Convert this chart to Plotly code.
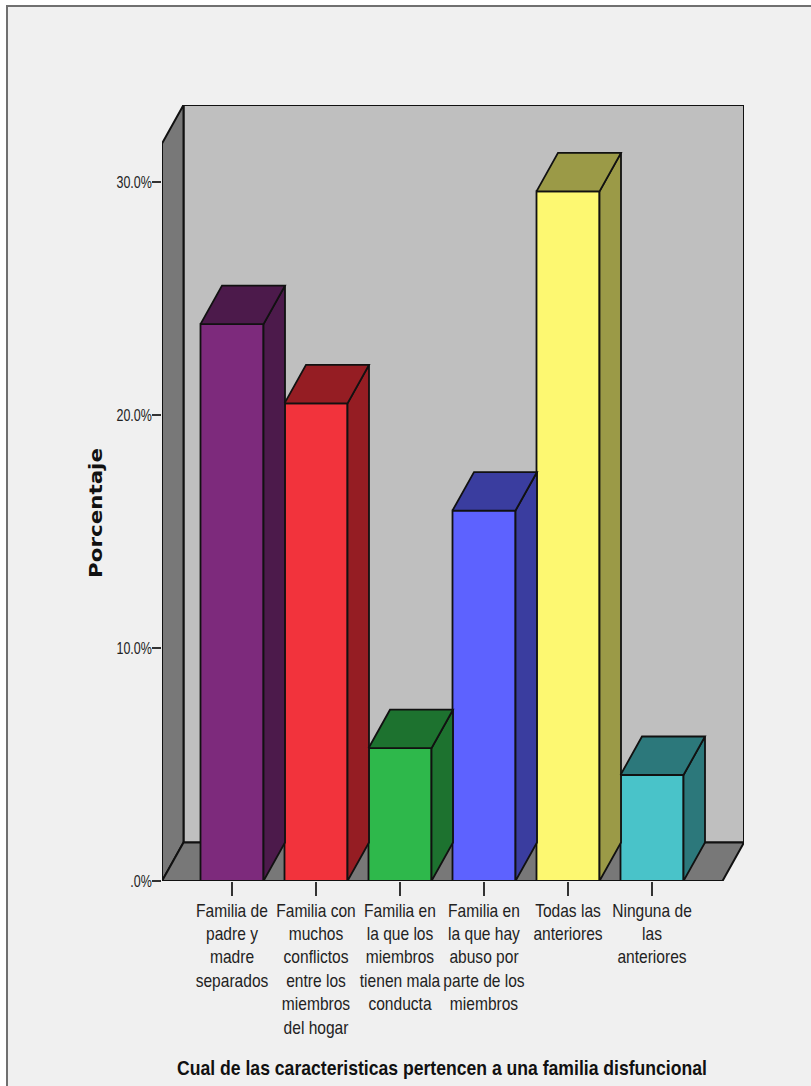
import plotly.graph_objects as go

categories = [
    "Familia de<br>padre y<br>madre<br>separados",
    "Familia con<br>muchos<br>conflictos<br>entre los<br>miembros<br>del hogar",
    "Familia en<br>la que los<br>miembros<br>tienen mala<br>conducta",
    "Familia en<br>la que hay<br>abuso por<br>parte de los<br>miembros",
    "Todas las<br>anteriores",
    "Ninguna de<br>las<br>anteriores",
]
porcentaje = [23.9, 20.5, 5.7, 15.9, 29.6, 4.55]
front_colors = ["#7d2a7c", "#f2333c", "#2eb84b", "#5d62ff", "#fdf871", "#49c3c9"]
side_colors = ["#4c1a4b", "#951d23", "#1d722f", "#3a3d9f", "#9b9a47", "#2c787b"]
y_ticks = [0, 10, 20, 30]
y_labels = [".0%", "10.0%", "20.0%", "30.0%"]

# Chart geometry
W, H = 811, 1086
L, R, T, B = 162, 744, 105, 881
PX_PER_CAT, PX_PER_PCT = 84.0, 23.3
CENTER0 = 232
DX, DY = 21.5 / PX_PER_CAT, 38.5 / PX_PER_PCT
BAR_W = 63 / PX_PER_CAT
xmin = (L - CENTER0) / PX_PER_CAT
xmax = (R - CENTER0) / PX_PER_CAT
ymax = (B - T) / PX_PER_PCT
INK = "#111111"
xpos = list(range(len(categories)))

fig = go.Figure()
fig.add_trace(go.Bar(
    x=xpos, y=porcentaje, width=BAR_W, showlegend=False, hoverinfo="skip",
    marker=dict(color=front_colors, line=dict(color=INK, width=1.8)),
))


def face(xs, ys, color):
    fig.add_trace(go.Scatter(
        x=xs, y=ys, mode="lines", fill="toself", fillcolor=color, showlegend=False,
        hoverinfo="skip", cliponaxis=False, line=dict(color=INK, width=1.8),
    ))


for x, v, c in zip(xpos, porcentaje, side_colors):
    a, b = x - BAR_W / 2, x + BAR_W / 2
    face([b, b + DX, b + DX, b, b], [0, DY, v + DY, v, 0], c)
    face([a, b, b + DX, a + DX, a], [v, v, v + DY, v + DY, v], c)


def poly(pts, color):
    path = "M " + " L ".join(f"{x},{y}" for x, y in pts) + " Z"
    return dict(type="path", path=path, xref="x", yref="y", layer="below",
                fillcolor=color, line=dict(color=INK, width=2))


shapes = [
    dict(type="rect", xref="paper", yref="paper", layer="below",
         x0=(7 - L) / (R - L), x1=(W + 20 - L) / (R - L),
         y0=(B - H - 20) / (B - T), y1=(B - 6) / (B - T),
         fillcolor="#f0f0f0", line=dict(color="#707070", width=2)),
    poly([(xmin + DX, DY), (xmax, DY), (xmax, ymax), (xmin + DX, ymax)], "#bfbfbf"),
    poly([(xmin, 0), (xmin + DX, DY), (xmin + DX, ymax), (xmin, ymax - DY)], "#787878"),
    poly([(xmin, 0), (xmax - DX, 0), (xmax, DY), (xmin + DX, DY)], "#787878"),
]

FONT = "Liberation Sans, Arial, sans-serif"
fig.update_layout(
    width=W, height=H, autosize=False, paper_bgcolor="#ffffff", plot_bgcolor="rgba(0,0,0,0)",
    margin=dict(l=L, r=W - R, t=T, b=H - B), shapes=shapes, showlegend=False,
    font=dict(family=FONT, color="#222222", size=17),
    xaxis=dict(
        range=[xmin, xmax], tickvals=xpos, ticktext=categories, tickangle=0, showgrid=False,
        zeroline=False, showline=False, ticks="outside", ticklen=14, tickwidth=1.5,
        tickcolor="#333333", tickfont=dict(size=18, family=FONT), ticklabelstandoff=-1,
        automargin=False,
        title=dict(text="<b>Cual de las caracteristicas pertencen a una familia disfuncional</b>",
                   font=dict(size=20, family=FONT, color="#111111"), standoff=8),
    ),
    yaxis=dict(
        range=[0, ymax], tickvals=y_ticks, ticktext=y_labels, showgrid=False, zeroline=False,
        showline=False, ticks="outside", ticklen=9, tickwidth=1.5, tickcolor="#333333",
        tickfont=dict(size=16, family=FONT), ticklabelstandoff=-3, automargin=False,
        title=dict(text="<b>Porcentaje</b>",
                   font=dict(size=18, family="DejaVu Sans, sans-serif", color="#111111"), standoff=14),
    ),
)

# The reference text is horizontally condensed; no narrow face is installed, so scale the real text.
POST = """
document.body.style.margin = '0';
function fit(sel, sx, dx, dy) {
  document.querySelectorAll(sel).forEach(function (t) {
    var x = parseFloat(t.getAttribute('x')) || 0, y = parseFloat(t.getAttribute('y')) || 0;
    t.setAttribute('transform', (t.getAttribute('transform') || '') +
      ' translate(' + (x + dx) + ',' + (y + dy) + ') scale(' + sx + ',1) translate(' + (-x) + ',' + (-y) + ')');
  });
}
fit('.xtick text', 0.865, 0, 0);
fit('.ytick text', 0.78, 0, 0);
fit('.xtitle', 0.88, -11, 16);
fit('.ytitle', 1.19, -20, 15);
"""
fig.write_html("out.html", config={"displayModeBar": False}, post_script=POST)
